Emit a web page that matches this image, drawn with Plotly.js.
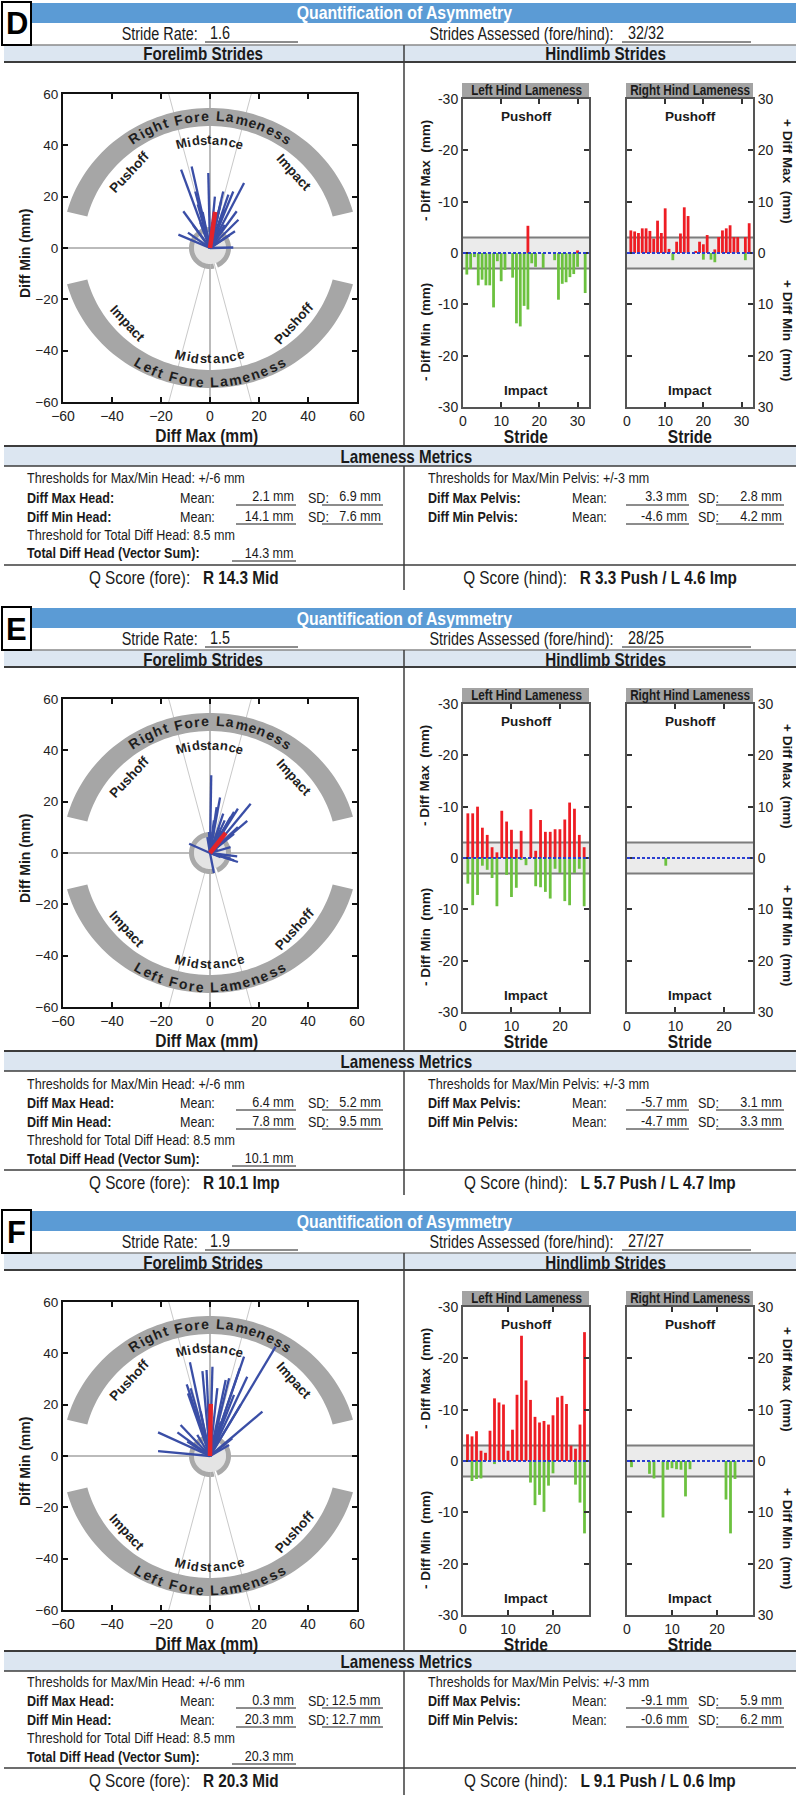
<!DOCTYPE html>
<html><head><meta charset="utf-8">
<script src="https://cdn.plot.ly/plotly-3.0.1.min.js"></script>
<style>html,body{margin:0;padding:0;background:#fff}#chart{width:796px;height:1795px}</style>
</head><body><div id="chart"></div>
<script>
// ---------------- DATA ----------------
const panelLetters = ['D', 'E', 'F'];
const strideRates = ['1.6', '1.5', '1.9'];
const stridesAssessed = ['32/32', '28/25', '27/27'];

// Forelimb stride vectors: Diff Max (x) and Diff Min (y), mm
const foreD_max = [-11.8,-7.5,-0.7,-10.9,-12.9,13.9,9.5,7.5,10.9,11.6,10.2,9.5,5.4,4.5,6,3,-3,-5,-7,-4,-2,1,2,6,8,-9,-1,3,5,4,-6,2];
const foreD_min = [30.5,31.8,29.2,14.3,5.2,25.3,22,20.8,14.3,11,6.5,0.2,22,18,15,12,14,17,9,10,8,10,6,9,5,6,4,3,12,16,22,20];
const foreE_max = [0.5,4.1,16.6,11.4,9.8,15.2,5.4,8.4,1.6,3.7,9.8,7,-8.5,11.1,11.4,8.4,1.6,4.3,-0.4,2.7,7.1,6,9.8,3,-1.1,11.4,4.3,8.4];
const foreE_min = [30.3,21.6,19.2,17.3,16,12.5,15.3,14,12.7,10,7.5,5.6,3.6,-1.3,-3.5,-2.2,-7.8,-1.6,8.2,17.9,11.4,12.7,-2.9,1.7,6.2,10.1,8.8,2.3];
const foreF_max = [26.8,13.9,12.2,15.2,7.8,21.4,1,-1.4,-3.1,-8.2,-9.5,-9,-12,-13.3,-21.2,-21.2,-9.3,-5.2,3,6.4,9.8,12.5,9.1,7.8,4.4,-3.8,-7.9];
const foreF_min = [42.6,38.7,34.2,30.9,30.3,17.3,34.8,33.5,33.1,36.5,27.9,24.4,12.1,9.2,9.2,1.9,5.6,8.2,26.4,29.6,23.8,19.9,6.9,4.3,13.4,17.3,26.4];
// Mean vector (red)
const foreMeanMax = [2.1, 6.4, 0.3];
const foreMeanMin = [14.1, 7.8, 20.3];

// Hindlimb strides: signed pelvis Diff Max / Diff Min (negative = left, positive = right)
const hindD_max = [4.4,4.2,3.9,4.8,4.8,4.3,2.8,6.3,3.9,8.7,0.8,0,2.2,3.8,8.9,7.2,-5.3,0.4,2.2,1.7,3.5,0,0.7,3.1,4.4,4.8,5.4,3.1,3.1,-0.5,3.1,5.8];
const hindD_min = [-4.2,-3.1,-0.8,-6.3,-5.2,-6.3,-6.3,-10.6,-1.6,-5.5,-3.3,1.4,-4.8,-13.7,-14.3,-10.3,-11.0,-2.0,-2.7,1.3,-2.9,1.3,1.8,-1.4,-9.1,-6.0,-5.7,-4.7,-4.1,-2.7,1.4,-7.8];
const hindE_max = [-8.7,-8.7,-10,-5.9,-4.5,-2.1,-1.1,-9.2,-7.1,-5.5,-1.7,-5.3,0,-9.5,-1.4,-7.4,-5.1,-5.1,-5.6,-5.6,-7.5,-10.8,-9.6,-4.5,-2.1];
const hindE_min = [-5,-9.2,-7.2,-1.5,-2.3,-3.9,-9.4,1.5,-3.3,-7.6,-5.8,-0.4,-1.4,0,-5.5,-5.7,-6.6,-7.9,-2.1,-2.9,-8.4,-9.2,-2.9,-2.1,-9.4];
const hindF_max = [-5.2,-4.8,-5.8,-2.0,-1.6,-5.9,-12.2,-11.4,-11.0,-2.0,-6.1,-12.9,-24.4,-15.7,-11.9,-8.6,-7.5,-7.8,-7.1,-8.9,-12.4,-12.7,-11.1,-3.0,-2.4,-7.1,-25.1];
const hindF_min = [1.2,-3.9,-3.5,-3.4,2.5,3.4,-0.6,11.0,1.7,1.4,1.6,1.7,6.9,1.6,-4.2,-8.6,-6.6,-9.9,-4.8,-2.4,0,7.5,14.1,3.5,-4.6,-8.1,-14.1];

const polarTicks = [-60,-40,-20,0,20,40,60];
const hindYTicks = [-30,-20,-10,0,10,20,30];
const hindLeftTickText = ['-30','-20','-10','0','-10','-20','-30'];
const hindRightTickText = ['30','20','10','0','10','20','30'];
const hindXTicks = [[0,10,20,30],[0,10,20],[0,10,20]];

// Lameness metrics text values
const headMaxMean = ['2.1', '6.4', '0.3'];
const headMaxSD = ['6.9', '5.2', '12.5'];
const headMinMean = ['14.1', '7.8', '20.3'];
const headMinSD = ['7.6', '9.5', '12.7'];
const totalDiffHead = ['14.3', '10.1', '20.3'];
const pelvisMaxMean = ['3.3', '-5.7', '-9.1'];
const pelvisMaxSD = ['2.8', '3.1', '5.9'];
const pelvisMinMean = ['-4.6', '-4.7', '-0.6'];
const pelvisMinSD = ['4.2', '3.3', '6.2'];
const qFore = ['R 14.3 Mid', 'R 10.1 Imp', 'R 20.3 Mid'];
const qHind = ['R 3.3 Push / L 4.6 Imp', 'L 5.7 Push / L 4.7 Imp', 'L 9.1 Push / L 0.6 Imp'];

const foreMax = [foreD_max, foreE_max, foreF_max];
const foreMin = [foreD_min, foreE_min, foreF_min];
const hindMax = [hindD_max, hindE_max, hindF_max];
const hindMin = [hindD_min, hindE_min, hindF_min];

// ---------------- LAYOUT ----------------
const W = 796, H = 1795;
const P = v => v / W;
const Q = v => 1 - v / H;
const SANS = '"Liberation Sans",Arial,Helvetica,sans-serif';
const K = 0.82;               // horizontal squeeze giving an Arial-Narrow look
const NB = '\u00a0';
const offsets = [0, 605, 1208];
const barShift = [0, 0, -3];
const lowerShift = [0, 0, -5];
const POLAR = {x0: 63, x1: 357, y0: 94, y1: 402};
const HL = {x0: 463, x1: 589, y0: 99, y1: 407};
const HR = {x0: 627, x1: 753, y0: 99, y1: 407};
const BLUE = '#5b9bd5', ROWBG = '#dce6f1', LINEC = '#3c3c3c';

const layout = {width: W, height: H, margin: {l:0, r:0, t:0, b:0}, paper_bgcolor: '#ffffff',
  plot_bgcolor: 'rgba(0,0,0,0)', showlegend: false, barmode: 'overlay', shapes: [], annotations: []};
const traces = [];
const narrowAnch = {};

const cv = document.createElement('canvas').getContext('2d');
function mw(str, bold, size, fam) { cv.font = (bold ? 'bold ' : '') + size + 'px ' + (fam || SANS); return cv.measureText(str).width; }
function segW(segs) { return segs.reduce((s, sg) => s + mw(sg[0], sg[1], 100), 0) / 100; }
function fitSize(segs, target) { return target / (segW(segs) * K); }

function ann(o) { layout.annotations.push(Object.assign({showarrow: false, xref: 'paper', yref: 'paper', xanchor: 'center', yanchor: 'middle'}, o)); }
// narrow text: segs = [[text, bold], ...]; opts: {target | size, anchor, color, angle}
function ntext(x, y, segs, opts) {
  const size = opts.target ? fitSize(segs, opts.target) : opts.size;
  const html = segs.map(s => (s[1] ? '<b>' + s[0] + '</b>' : s[0])).join('');
  narrowAnch[layout.annotations.length] = opts.anchor || 'left';
  ann({x: P(x), y: Q(y), text: html, xanchor: opts.anchor || 'left', textangle: opts.angle || 0,
       font: {family: SANS, size: size, color: opts.color || '#1a1a1a'}});
  return size;
}
function ptext(x, y, text, size, opts) {
  opts = opts || {};
  ann({x: P(x), y: Q(y), text: text, xanchor: opts.anchor || 'center', textangle: opts.angle || 0,
       font: {family: SANS, size: size, color: opts.color || '#1a1a1a'}});
}
function pline(x0, y0, x1, y1, color, width) {
  layout.shapes.push({type: 'line', xref: 'paper', yref: 'paper', x0: P(x0), y0: Q(y0), x1: P(x1), y1: Q(y1), line: {color: color, width: width}, layer: 'below'});
}
function prect(x0, y0, x1, y1, fill, lc, lw) {
  layout.shapes.push({type: 'rect', xref: 'paper', yref: 'paper', x0: P(x0), y0: Q(y1), x1: P(x1), y1: Q(y0), fillcolor: fill, line: {color: lc || 'rgba(0,0,0,0)', width: lw || 0}, layer: 'below'});
}

function arcText(str, a0, a1, rx, ry, top, ax, ay, sx, sy, size) {
  const ls = 2.2;
  const chars = [...str];
  const w = chars.map(c => mw(c, true, size) + ls);
  const tot = w.reduce((a, b) => a + b, 0);
  let cum = 0;
  chars.forEach((c, i) => {
    const f = (cum + w[i] / 2) / tot; cum += w[i];
    if (c === ' ') return;
    const deg = a0 + (a1 - a0) * f;
    const a = deg * Math.PI / 180;
    const rot = top ? 90 - deg : -(deg + 90);
    layout.annotations.push({xref: ax, yref: ay, x: rx * Math.cos(a) / sx, y: ry * Math.sin(a) / sy,
      text: '<b>' + c + '</b>', showarrow: false, textangle: rot, xanchor: 'center', yanchor: 'middle',
      font: {family: SANS, size: size, color: '#1e1e1e'}});
  });
}
function wordAt(word, dx, dy, top, ax, ay, sx, sy, size) {
  const deg = Math.atan2(dy, dx) * 180 / Math.PI;
  const rot = top ? 90 - deg : -(deg + 90);
  layout.annotations.push({xref: ax, yref: ay, x: dx / sx, y: dy / sy, text: '<b>' + word + '</b>', showarrow: false,
    textangle: rot, xanchor: 'center', yanchor: 'middle', font: {family: SANS, size: size, color: '#1e1e1e'}});
}
function ringPath(rxo, ryo, rxi, ryi, a0, a1, sx, sy) {
  const pts = [];
  for (let d = a0; d <= a1 + 1e-9; d += 2) { const a = d * Math.PI / 180; pts.push([rxo * Math.cos(a) / sx, ryo * Math.sin(a) / sy]); }
  for (let d = a1; d >= a0 - 1e-9; d -= 2) { const a = d * Math.PI / 180; pts.push([rxi * Math.cos(a) / sx, ryi * Math.sin(a) / sy]); }
  return 'M ' + pts.map(p => p[0].toFixed(3) + ',' + p[1].toFixed(3)).join(' L ') + ' Z';
}
function diskPath(r, sx, sy) {
  const pts = [];
  for (let d = 0; d < 360; d += 6) { const a = d * Math.PI / 180; pts.push([r * Math.cos(a) / sx, r * Math.sin(a) / sy]); }
  return 'M ' + pts.map(p => p[0].toFixed(3) + ',' + p[1].toFixed(3)).join(' L ') + ' Z';
}

// shared text sizes (fitted to the reference widths)
const rowSize = fitSize([['Strides Assessed (fore/hind):', false]], 185);
const headSize = fitSize([['Forelimb Strides', true]], 120);
const metSize = fitSize([['Thresholds for Max/Min Head: +/-6 mm', false]], 218);
const qSize = fitSize([['Q Score (fore):' + NB + NB + NB, false], ['R 14.3 Mid', true]], 190);
const titleSize = fitSize([['Diff Max (mm)', true]], 103);

panelLetters.forEach((letter, p) => {
  const o = offsets[p];
  const ob = o + barShift[p];
  const ol = o + lowerShift[p];
  const kP = 3 * p + 1, kL = 3 * p + 2, kR = 3 * p + 3;
  const xn = k => (k === 1 ? 'x' : 'x' + k), yn = k => (k === 1 ? 'y' : 'y' + k);
  const bottom = Math.min(o + 590, H);

  // ---- table frame ----
  prect(31, o + 3, 796, o + 23, BLUE);
  prect(4, o + 45, 796, o + 62, ROWBG);
  pline(4, o + 45, 796, o + 45, '#8a8a8a', 1.5);
  pline(4, o + 62, 796, o + 62, LINEC, 2);
  prect(4, ob + 446, 796, ob + 466, ROWBG);
  pline(4, ob + 446, 796, ob + 446, LINEC, 2);
  pline(4, ob + 466, 796, ob + 466, LINEC, 1.5);
  pline(4, ol + 565, 796, ol + 565, LINEC, 1.5);
  pline(404, o + 45, 404, ob + 446, LINEC, 1.5);
  pline(404, ob + 466, 404, bottom, LINEC, 1.5);
  prect(2, o + 2, 31, o + 45, '#ffffff', '#000000', 2);
  ptext(16.5, o + 24, '<b>' + letter + '</b>', 31, {color: '#000'});
  ntext(404, o + 13, [['Quantification of Asymmetry', true]], {target: 216, anchor: 'center', color: '#ffffff'});

  ntext(616, o + 34, [['Strides Assessed (fore/hind):', false]], {size: rowSize, anchor: 'right'});
  ntext(626, o + 33, [[stridesAssessed[p], false]], {size: rowSize});
  pline(622, o + 42, 751, o + 42, '#1a1a1a', 1);
  ntext(200, o + 34, [['Stride Rate:', false]], {size: rowSize, anchor: 'right'});
  ntext(208, o + 33, [[strideRates[p], false]], {size: rowSize});
  pline(205, o + 42, 298, o + 42, '#1a1a1a', 1);

  ntext(203, o + 54, [['Forelimb Strides', true]], {size: headSize, anchor: 'center'});
  ntext(605, o + 54, [['Hindlimb Strides', true]], {size: headSize, anchor: 'center'});
  ntext(406, ob + 456, [['Lameness Metrics', true]], {size: headSize, anchor: 'center'});

  // metrics
  const mrow = (y, label, mean, sd, xs) => {
    ntext(xs.l, y, [[label, true]], {size: metSize});
    ntext(xs.m, y, [['Mean:', false]], {size: metSize});
    ntext(xs.v1, y - 1, [[mean + ' mm', false]], {size: metSize, anchor: 'right'});
    pline(xs.u1, y + 8, xs.v1, y + 8, '#1a1a1a', 1);
    ntext(xs.s, y, [['SD:', false]], {size: metSize});
    ntext(xs.v2, y - 1, [[sd + ' mm', false]], {size: metSize, anchor: 'right'});
    pline(xs.u2, y + 8, xs.v2, y + 8, '#1a1a1a', 1);
  };
  const XL = {l: 25, m: 178, u1: 236, v1: 296, s: 306, u2: 322, v2: 383};
  const XR = {l: 426, m: 570, u1: 626, v1: 689, s: 696, u2: 716, v2: 784};
  ntext(25, ol + 478, [['Thresholds for Max/Min Head: +/-6 mm', false]], {size: metSize});
  mrow(ol + 497, 'Diff Max Head:', headMaxMean[p], headMaxSD[p], XL);
  mrow(ol + 516, 'Diff Min Head:', headMinMean[p], headMinSD[p], XL);
  ntext(25, ol + 534, [['Threshold for Total Diff Head: 8.5 mm', false]], {size: metSize});
  ntext(25, ol + 553, [['Total Diff Head (Vector Sum):', true]], {size: metSize});
  ntext(296, ol + 552, [[totalDiffHead[p] + ' mm', false]], {size: metSize, anchor: 'right'});
  pline(232, ol + 561, 296, ol + 561, '#1a1a1a', 1);
  ntext(426, ol + 478, [['Thresholds for Max/Min Pelvis: +/-3 mm', false]], {size: metSize});
  mrow(ol + 497, 'Diff Max Pelvis:', pelvisMaxMean[p], pelvisMaxSD[p], XR);
  mrow(ol + 516, 'Diff Min Pelvis:', pelvisMinMean[p], pelvisMinSD[p], XR);
  ntext(184, ol + 577, [['Q Score (fore):' + NB + NB + NB, false], [qFore[p], true]], {size: qSize, anchor: 'center'});
  ntext(600, ol + 577, [['Q Score (hind):' + NB + NB + NB, false], [qHind[p], true]], {size: qSize, anchor: 'center'});

  // ---- forelimb polar-style chart ----
  const pw = POLAR.x1 - POLAR.x0, ph = POLAR.y1 - POLAR.y0;
  const sx = pw / 120, sy = ph / 120;
  const axP = {
    range: [-60, 60], tickvals: polarTicks, ticks: 'inside', ticklen: 5, tickwidth: 1.5, tickcolor: '#111',
    showline: true, linecolor: '#111', linewidth: 2, mirror: 'ticks', showgrid: false, zeroline: false, fixedrange: true
  };
  layout['xaxis' + (kP === 1 ? '' : kP)] = Object.assign({}, axP, {domain: [P(POLAR.x0), P(POLAR.x1)], anchor: yn(kP),
    tickfont: {family: SANS, size: 14, color: '#222'}});
  layout['yaxis' + (kP === 1 ? '' : kP)] = Object.assign({}, axP, {domain: [Q(o + POLAR.y1), Q(o + POLAR.y0)], anchor: xn(kP),
    tickfont: {family: SANS, size: 13.5, color: '#222'}});
  const AX = xn(kP), AY = yn(kP);
  const sh = (o2) => layout.shapes.push(Object.assign({xref: AX, yref: AY, layer: 'below'}, o2));
  [75, 105].forEach(d => {
    const a = d * Math.PI / 180;
    const dyPx = 60 * sy, dxPx = dyPx / Math.tan(a);
    sh({type: 'line', x0: dxPx / sx, y0: 60, x1: -dxPx / sx, y1: -60, line: {color: '#c9c9c9', width: 1}});
  });
  sh({type: 'line', x0: -60, y0: 0, x1: 60, y1: 0, line: {color: '#a5a5a5', width: 1.5}});
  sh({type: 'line', x0: 0, y0: -60, x1: 0, y1: 60, line: {color: '#a5a5a5', width: 1.5}});
  sh({type: 'path', path: ringPath(148, 140, 127, 122, 15, 165, sx, sy), fillcolor: '#a6a6a6', line: {width: 0}});
  sh({type: 'path', path: ringPath(148, 140, 127, 122, -165, -15, sx, sy), fillcolor: '#a6a6a6', line: {width: 0}});
  sh({type: 'path', path: diskPath(16, sx, sy), fillcolor: '#e4e4e4', line: {width: 0}});
  sh({type: 'path', path: ringPath(21, 21, 16, 16, -68, 270, sx, sy), fillcolor: '#a9a9a9', line: {width: 0}});
  sh({type: 'path', path: ringPath(21, 21, 16, 16, -88, -78, sx, sy), fillcolor: '#a9a9a9', line: {width: 0}});

  arcText('Right Fore Lameness', 126, 54, 137, 132, true, AX, AY, sx, sy, 14);
  arcText('Left Fore Lameness', -123, -57, 137, 134, false, AX, AY, sx, sy, 14);
  arcText('Midstance', 108, 72, 108, 108, true, AX, AY, sx, sy, 13);
  arcText('Midstance', -108, -72, 111, 111, false, AX, AY, sx, sy, 13);
  wordAt('Pushoff', -81, 75.7, true, AX, AY, sx, sy, 13.5);
  wordAt('Impact', 84, 75.7, true, AX, AY, sx, sy, 13.5);
  wordAt('Impact', -82.7, -76, false, AX, AY, sx, sy, 13.5);
  wordAt('Pushoff', 84, -76, false, AX, AY, sx, sy, 13.5);

  const lx = [], ly = [];
  foreMax[p].forEach((v, i) => { lx.push(0, v, null); ly.push(0, foreMin[p][i], null); });
  traces.push({type: 'scatter', mode: 'lines', x: lx, y: ly, xaxis: AX, yaxis: AY,
    line: {color: '#3a4ea6', width: 2.3}, hoverinfo: 'skip'});
  traces.push({type: 'scatter', mode: 'lines', x: [0, foreMeanMax[p]], y: [0, foreMeanMin[p]], xaxis: AX, yaxis: AY,
    line: {color: '#e3232a', width: 4.5}, hoverinfo: 'skip'});
  ptext(25, o + 253, '<b>Diff Min (mm)</b>', 14, {angle: -90});
  ntext(207, o + 435, [['Diff Max (mm)', true]], {size: titleSize, anchor: 'center'});

  // ---- hindlimb charts ----
  const n = hindMax[p].length;
  const xr = [0, n + 1];
  const barW = 2.8 / ((HL.x1 - HL.x0) / (n + 1));
  const strides = hindMax[p].map((v, i) => i + 1);
  [[kL, HL, 'left'], [kR, HR, 'right']].forEach(([k, G, side]) => {
    const X = xn(k), Y = yn(k);
    layout['xaxis' + k] = {domain: [P(G.x0), P(G.x1)], anchor: Y, range: xr, tickvals: hindXTicks[p],
      ticks: 'inside', ticklen: 5, tickwidth: 1.5, tickcolor: '#333', showline: true, linecolor: '#555', linewidth: 2,
      mirror: 'ticks', showgrid: false, zeroline: false, fixedrange: true,
      tickfont: {family: SANS, size: 14, color: '#222'}};
    layout['yaxis' + k] = {domain: [Q(o + G.y1), Q(o + G.y0)], anchor: X, range: [-30, 30], side: side,
      tickvals: hindYTicks, ticktext: side === 'left' ? hindLeftTickText : hindRightTickText,
      ticks: 'inside', ticklen: 5, tickwidth: 1.5, tickcolor: '#333', showline: true, linecolor: '#555', linewidth: 2,
      mirror: 'ticks', showgrid: false, zeroline: false, fixedrange: true,
      tickfont: {family: SANS, size: 14, color: '#222'}};
    const shp = (o2) => layout.shapes.push(Object.assign({xref: X, yref: Y}, o2));
    shp({type: 'rect', x0: xr[0], x1: xr[1], y0: -3, y1: 3, fillcolor: '#ebebeb', line: {width: 0}, layer: 'below'});
    shp({type: 'line', x0: xr[0], x1: xr[1], y0: 3, y1: 3, line: {color: '#7d7d7d', width: 2}, layer: 'below'});
    shp({type: 'line', x0: xr[0], x1: xr[1], y0: -3, y1: -3, line: {color: '#7d7d7d', width: 2}, layer: 'below'});
    const red = side === 'left' ? hindMax[p].map(v => (v < 0 ? -v : 0)) : hindMax[p].map(v => (v > 0 ? v : 0));
    const green = side === 'left' ? hindMin[p].map(v => (v < 0 ? v : 0)) : hindMin[p].map(v => (v > 0 ? -v : 0));
    traces.push({type: 'bar', x: strides, y: red, width: barW, xaxis: X, yaxis: Y, marker: {color: '#ee1d24', line: {width: 0}}, hoverinfo: 'skip'});
    traces.push({type: 'bar', x: strides, y: green, width: barW, xaxis: X, yaxis: Y, marker: {color: '#6cc13f', line: {width: 0}}, hoverinfo: 'skip'});
    shp({type: 'line', x0: xr[0], x1: xr[1], y0: 0, y1: 0, line: {color: '#2a3fd0', width: 2, dash: '3px,2px'}, layer: 'above'});
    layout.annotations.push({xref: X, yref: Y, x: (n + 1) / 2, y: 26.6, text: '<b>Pushoff</b>', showarrow: false,
      font: {family: SANS, size: 13.5, color: '#1a1a1a'}});
    layout.annotations.push({xref: X, yref: Y, x: (n + 1) / 2, y: -26.8, text: '<b>Impact</b>', showarrow: false,
      font: {family: SANS, size: 13.5, color: '#1a1a1a'}});
    prect(G.x0 - 1, o + 83, G.x1, o + 97, '#a3a3a3');
    ntext((G.x0 + G.x1) / 2, o + 90, [[side === 'left' ? 'Left Hind Lameness' : 'Right Hind Lameness', true]],
      {target: side === 'left' ? 111 : 120, anchor: 'center'});
    ntext((G.x0 + G.x1) / 2, o + 436, [['Stride', true]], {size: titleSize, anchor: 'center'});
  });
  ptext(425, o + 170, '<b>- Diff Max  (mm)</b>', 13.5, {angle: -90});
  ptext(425, o + 332, '<b>- Diff Min  (mm)</b>', 13.5, {angle: -90});
  ptext(788, o + 171, '<b>+ Diff Max  (mm)</b>', 13.5, {angle: 90});
  ptext(788, o + 331, '<b>+ Diff Min  (mm)</b>', 13.5, {angle: 90});
});

function squeeze() {
  document.querySelectorAll('#chart g.annotation').forEach(g => {
    const i = +g.getAttribute('data-index');
    const a = narrowAnch[i];
    if (!a) return;
    const t = g.querySelector('text.annotation-text');
    if (!t) return;
    const bb = t.getBBox();
    const pv = a === 'left' ? bb.x : (a === 'right' ? bb.x + bb.width : bb.x + bb.width / 2);
    t.setAttribute('transform', 'translate(' + pv + ',0) scale(' + K + ',1) translate(' + (-pv) + ',0)');
  });
}
Plotly.newPlot('chart', traces, layout, {displayModeBar: false, responsive: false}).then(squeeze);
</script>
</body></html>
